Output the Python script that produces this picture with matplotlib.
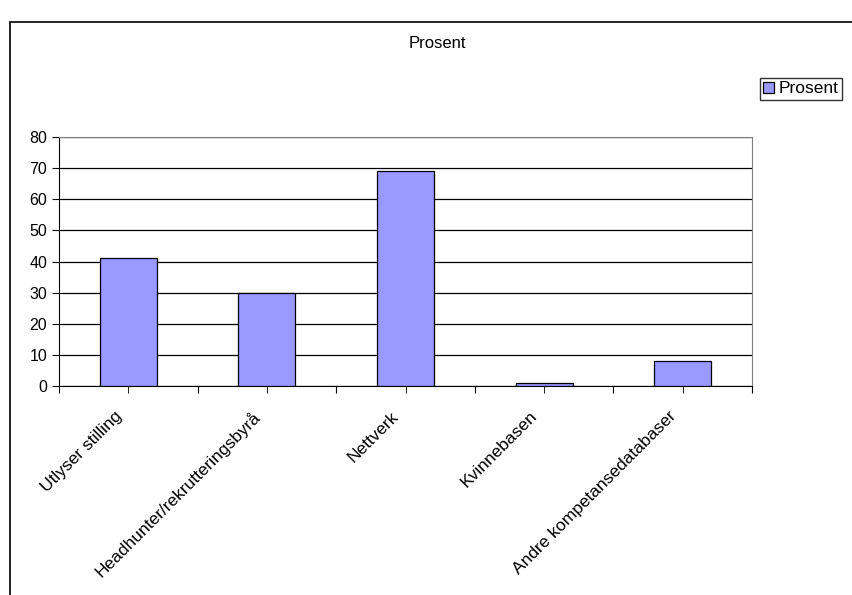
import numpy as np
import matplotlib
matplotlib.use("Agg")
import matplotlib.pyplot as plt
import matplotlib.transforms as mtransforms
from matplotlib.patches import Rectangle

categories = ["Utlyser stilling", "Headhunter/rekrutteringsbyrå", "Nettverk",
              "Kvinnebasen", "Andre kompetansedatabaser"]
values = [41, 30, 69, 1, 8]
yticks = [0, 10, 20, 30, 40, 50, 60, 70, 80]

plt.rcParams['font.family'] = ['Liberation Sans', 'DejaVu Sans']

fig = plt.figure(figsize=(8.52, 5.95), dpi=100)
W, H = 852, 595

# outer chart frame (cut off at right and bottom like the original)
fig.patches.append(Rectangle((10 / W, -0.1), 1.2, 1 - 22 / H + 0.1,
                             transform=fig.transFigure, fill=False,
                             edgecolor='black', linewidth=1.2))

ax = fig.add_axes([59 / W, 1 - 386 / H, (752 - 59) / W, (386 - 137) / H])
x = np.arange(len(categories))
ax.bar(x, values, width=0.41, color='#9999ff', edgecolor='black',
       linewidth=0.9, zorder=3, label='Prosent')

ax.set_xlim(-0.5, len(categories) - 0.5)
ax.set_ylim(0, 80)
ax.set_yticks(yticks)
ax.yaxis.grid(True, color='black', linewidth=0.9, zorder=0)
ax.set_xticks(np.arange(-0.5, len(categories), 1.0))
ax.set_xticklabels([])
ax.set_xticks(x, minor=True)
ax.set_xticklabels(categories, minor=True, rotation=45, ha='right',
                   va='center', rotation_mode='anchor', fontsize=12.5)
ax.tick_params(axis='x', which='both', length=5, direction='out', pad=10)
ax.tick_params(axis='y', length=5, direction='out', labelsize=11.5)

# nudge the slanted labels a bit left/down
shift = mtransforms.ScaledTranslation(-9 / 100, -7 / 100, fig.dpi_scale_trans)
for lab in ax.get_xticklabels(minor=True):
    lab.set_transform(lab.get_transform() + shift)

for s in ['top', 'right']:
    ax.spines[s].set_color('#808080')
ax.spines['left'].set_color('black')
ax.spines['bottom'].set_color('black')

fig.text(437 / W, 1 - 43 / H, 'Prosent', ha='center', va='center', fontsize=12)

leg = fig.legend(loc='upper left', bbox_to_anchor=(760 / W, 1 - 78 / H),
                 frameon=True, fancybox=False, fontsize=12.5, handlelength=0.6,
                 handleheight=0.6, handletextpad=0.25, borderpad=0.2,
                 borderaxespad=0)
leg.get_frame().set_edgecolor('black')
leg.get_frame().set_linewidth(1.0)

fig.savefig('out.png', dpi=100)
